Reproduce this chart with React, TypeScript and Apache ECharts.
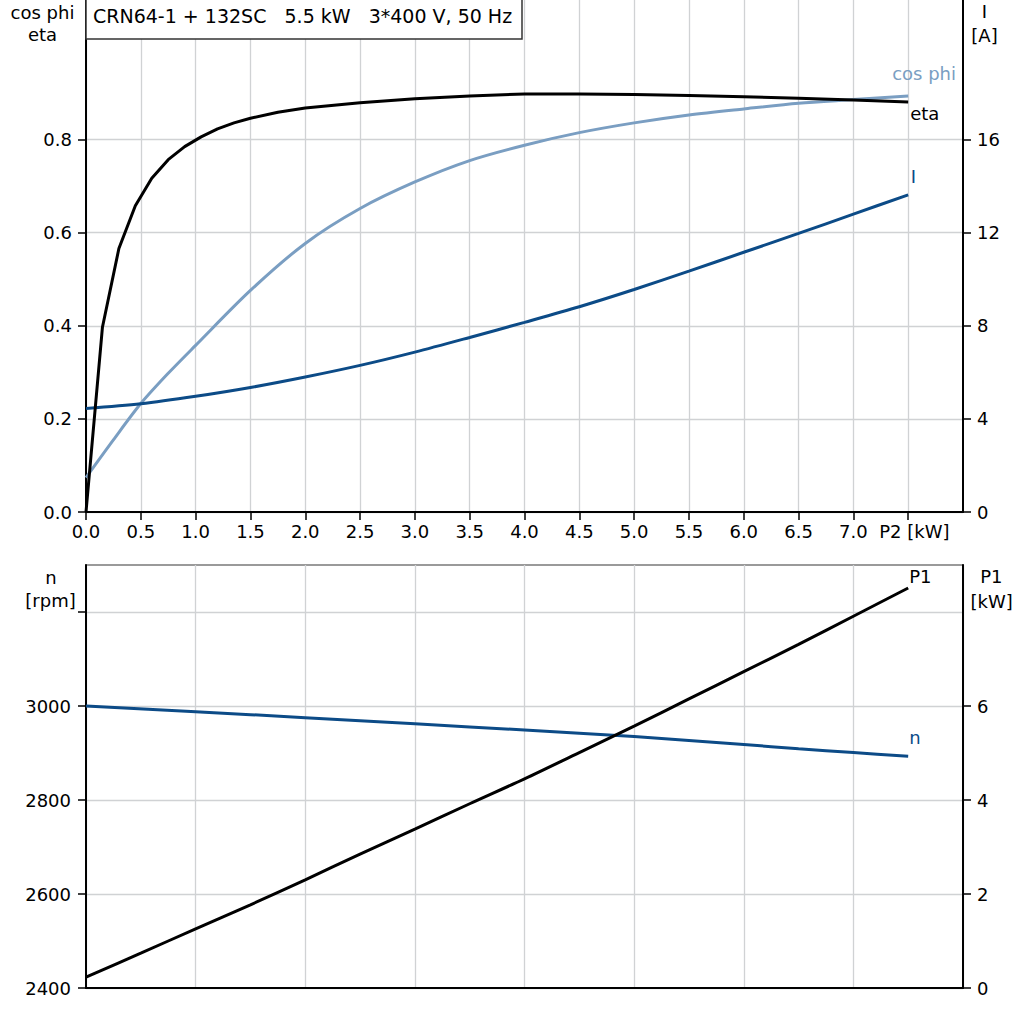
import React, { useEffect, useRef } from 'react';
import * as echarts from 'echarts';

const FONT = 'DejaVu Sans';

// Title
const titleText = 'CRN64-1 + 132SC   5.5 kW   3*400 V, 50 Hz';

// Top chart: eta
const etaP2 = [0, 0.15, 0.3, 0.45, 0.6, 0.75, 0.9, 1.05, 1.2, 1.35, 1.5, 1.75, 2.0, 2.5, 3.0, 3.5, 4.0, 4.5, 5.0, 5.5, 6.0, 6.5, 7.0, 7.5];
const etaVals = [0, 0.397, 0.566, 0.658, 0.717, 0.757, 0.785, 0.806, 0.823, 0.836, 0.846, 0.859, 0.868, 0.879, 0.888, 0.894, 0.898, 0.898, 0.897, 0.895, 0.892, 0.889, 0.885, 0.881];

// Top chart: cos phi
const cosP2 = [0, 0.25, 0.5, 0.75, 1.0, 1.5, 2.0, 2.5, 3.0, 3.5, 4.0, 4.5, 5.0, 5.5, 6.0, 6.5, 7.0, 7.5];
const cosVals = [0.074, 0.155, 0.233, 0.298, 0.358, 0.476, 0.577, 0.652, 0.709, 0.755, 0.788, 0.815, 0.836, 0.853, 0.866, 0.878, 0.886, 0.894];

// Top chart: current I [A]
const curP2 = [0, 0.5, 1.0, 1.5, 2.0, 2.5, 3.0, 3.5, 4.0, 4.5, 5.0, 5.5, 6.0, 6.5, 7.0, 7.5];
const curVals = [4.45, 4.65, 4.97, 5.35, 5.8, 6.3, 6.87, 7.5, 8.15, 8.82, 9.56, 10.35, 11.16, 11.97, 12.8, 13.63];

// Bottom chart: speed n [rpm]
const nP2 = [0, 1, 2, 3, 4, 5, 6, 6.5, 7, 7.5];
const nVals = [3000, 2988, 2975, 2962, 2949, 2935, 2918, 2909, 2901, 2893];

// Bottom chart: input power P1 [kW]
const p1P2 = [0, 0.5, 1.0, 1.5, 2.0, 2.5, 3.0, 3.5, 4.0, 4.5, 5.0, 5.5, 6.0, 6.5, 7.0, 7.5];
const p1Vals = [0.23, 0.74, 1.26, 1.77, 2.3, 2.85, 3.38, 3.92, 4.45, 5.01, 5.57, 6.15, 6.73, 7.31, 7.91, 8.51];

// Tick labels
const xTicks = [0, 0.5, 1, 1.5, 2, 2.5, 3, 3.5, 4, 4.5, 5, 5.5, 6, 6.5, 7, 7.5];
const effTicks = [0, 0.2, 0.4, 0.6, 0.8];
const curTicks = [0, 4, 8, 12, 16];
const nTickMarks = [2400, 2600, 2800, 3000, 3200];
const nTickLabels = [2400, 2600, 2800, 3000];
const p1Ticks = [0, 2, 4, 6];

const C_COS = '#7a9ec2';
const C_DARK = '#0c4b87';
const GRIDC = '#d0d2d4';

const zip = (xs: number[], ys: number[]) => xs.map((x, i) => [x, ys[i]]);

const labelStyle = { fontFamily: FONT, fontSize: 18, color: '#000' };
const axisLineBlack = { show: true, onZero: false, lineStyle: { color: '#000', width: 2 } };
const tickBlack = (vals: number[]) => ({ show: true, length: 8, customValues: vals, lineStyle: { color: '#000', width: 1.5 } });
const split = { show: true, lineStyle: { color: GRIDC, width: 1.3 } };

export default function App() {
  const ref = useRef<HTMLDivElement>(null);
  useEffect(() => {
    const chart = echarts.init(ref.current!, null, { renderer: 'svg' });
    const option: any = {
      animation: false,
      backgroundColor: '#fff',
      grid: [
        { left: 86, top: 0, width: 877, height: 512 },
        { left: 86, top: 565, width: 877, height: 423, show: true, borderColor: '#7a7a7a', borderWidth: 1.5, backgroundColor: 'transparent' },
      ],
      xAxis: [
        {
          gridIndex: 0, type: 'value', min: 0, max: 8, interval: 0.5, position: 'bottom',
          axisLine: axisLineBlack, axisTick: tickBlack(xTicks),
          axisLabel: { ...labelStyle, margin: 10, customValues: xTicks, formatter: (v: number) => (v === 7.5 ? '' : v.toFixed(1)) },
          splitLine: split,
        },
        {
          gridIndex: 1, type: 'value', min: 0, max: 8, interval: 1, position: 'bottom',
          axisLine: axisLineBlack, axisTick: { show: false }, axisLabel: { show: false },
          splitLine: split,
        },
      ],
      yAxis: [
        {
          gridIndex: 0, type: 'value', min: 0, max: 1.1, interval: 0.1, position: 'left',
          axisLine: axisLineBlack, axisTick: tickBlack(effTicks),
          axisLabel: { ...labelStyle, margin: 14, customValues: effTicks, formatter: (v: number) => v.toFixed(1) },
          splitLine: split,
        },
        {
          gridIndex: 0, type: 'value', min: 0, max: 22, interval: 2, position: 'right',
          axisLine: axisLineBlack, axisTick: tickBlack(curTicks),
          axisLabel: { ...labelStyle, margin: 14, customValues: curTicks, formatter: (v: number) => String(v) },
          splitLine: { show: false },
        },
        {
          gridIndex: 1, type: 'value', min: 2400, max: 3300, interval: 100, position: 'left',
          axisLine: axisLineBlack, axisTick: tickBlack(nTickMarks),
          axisLabel: { ...labelStyle, margin: 15, customValues: nTickLabels, formatter: (v: number) => String(v) },
          splitLine: split,
        },
        {
          gridIndex: 1, type: 'value', min: 0, max: 9, interval: 1, position: 'right',
          axisLine: axisLineBlack, axisTick: tickBlack(p1Ticks),
          axisLabel: { ...labelStyle, margin: 14, customValues: p1Ticks, formatter: (v: number) => String(v) },
          splitLine: { show: false },
        },
      ],
      series: [
        { name: 'eta', type: 'line', xAxisIndex: 0, yAxisIndex: 0, data: zip(etaP2, etaVals), showSymbol: false, symbol: 'none', smooth: false, lineStyle: { color: '#000', width: 3 }, z: 5 },
        { name: 'cos phi', type: 'line', xAxisIndex: 0, yAxisIndex: 0, data: zip(cosP2, cosVals), showSymbol: false, symbol: 'none', smooth: 0.3, lineStyle: { color: C_COS, width: 3 }, z: 4 },
        { name: 'I', type: 'line', xAxisIndex: 0, yAxisIndex: 1, data: zip(curP2, curVals), showSymbol: false, symbol: 'none', smooth: 0.3, lineStyle: { color: C_DARK, width: 3 }, z: 4 },
        { name: 'n', type: 'line', xAxisIndex: 1, yAxisIndex: 2, data: zip(nP2, nVals), showSymbol: false, symbol: 'none', smooth: 0.3, lineStyle: { color: C_DARK, width: 3 }, z: 4 },
        { name: 'P1', type: 'line', xAxisIndex: 1, yAxisIndex: 3, data: zip(p1P2, p1Vals), showSymbol: false, symbol: 'none', smooth: 0.3, lineStyle: { color: '#000', width: 3 }, z: 5 },
      ],
    };
    chart.setOption(option);

    const px = (xi: number, yi: number, x: number, y: number) =>
      chart.convertToPixel({ xAxisIndex: xi, yAxisIndex: yi } as any, [x, y]) as number[];
    const last = (a: number[]) => a[a.length - 1];

    const txt = (text: string, x: number, y: number, align: string, color: string, size = 18) => ({
      type: 'text', x, y, z: 110, silent: true,
      style: { text, fill: color, fontFamily: FONT, fontSize: size, align, verticalAlign: 'middle' },
    });

    const pCos = px(0, 0, last(cosP2), last(cosVals));
    const pEta = px(0, 0, last(etaP2), last(etaVals));
    const pCur = px(0, 1, last(curP2), last(curVals));
    const pN = px(1, 2, last(nP2), last(nVals));
    const pP1 = px(1, 3, last(p1P2), last(p1Vals));
    const xAxisY = px(0, 0, 7.5, 0);

    chart.setOption({
      graphic: [
        { type: 'rect', z: 100, shape: { x: 86, y: -1, width: 436, height: 40 }, style: { fill: '#fff', stroke: '#333', lineWidth: 1.5 } },
        txt(titleText, 93, 15.5, 'left', '#000', 19),
        txt('cos phi', 42.5, 12, 'center', '#000'),
        txt('eta', 42.5, 34.5, 'center', '#000'),
        txt('I', 984.5, 11, 'center', '#000'),
        txt('[A]', 984.5, 35.3, 'center', '#000'),
        txt('n', 51, 577, 'center', '#000'),
        txt('[rpm]', 50.5, 600.8, 'center', '#000'),
        txt('P1', 991.3, 576.5, 'center', '#000'),
        txt('[kW]', 991.7, 601.5, 'center', '#000'),
        txt('P2 [kW]', xAxisY[0] - 29, xAxisY[1] + 19, 'left', '#000'),
        txt('cos phi', pCos[0] - 16, pCos[1] - 22, 'left', C_COS),
        txt('eta', pEta[0] + 2, pEta[1] + 12, 'left', '#000'),
        txt('I', pCur[0] + 2.5, pCur[1] - 18.5, 'left', C_DARK),
        txt('n', pN[0] + 1, pN[1] - 19, 'left', C_DARK),
        txt('P1', pP1[0] + 1, pP1[1] - 11.5, 'left', '#000'),
      ],
    });
    return () => chart.dispose();
  }, []);
  return (
    <div
      ref={ref}
      style={{ position: 'fixed', left: 0, top: 0, width: 1024, height: 1024, background: '#fff' }}
    />
  );
}
